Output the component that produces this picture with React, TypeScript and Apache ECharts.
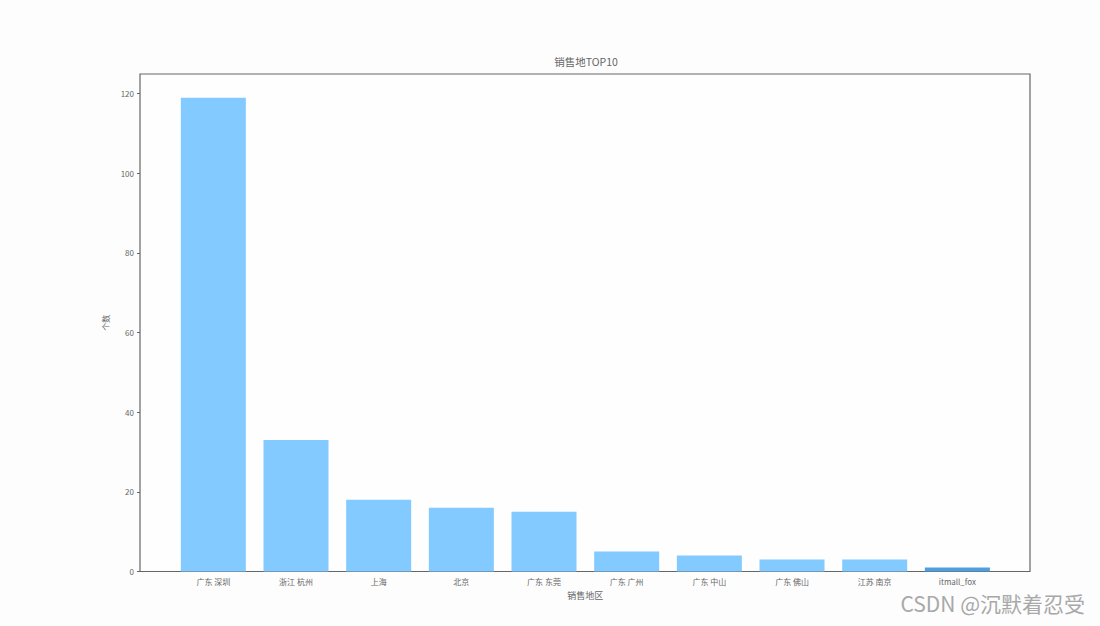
import { useEffect, useRef } from 'react';
import * as echarts from 'echarts';

const categories = ['广东 深圳', '浙江 杭州', '上海', '北京', '广东 东莞', '广东 广州', '广东 中山', '广东 佛山', '江苏 南京', 'itmall_fox'];
const salesValues = [119, 33, 18, 16, 15, 5, 4, 3, 3, 1];
const yTicks = [0, 20, 40, 60, 80, 100, 120];
const yMax = 124.95;

const FONT = '"Noto Sans CJK SC", "DejaVu Sans", sans-serif';
const TEXT = '#666';

export default function App() {
  const chartRef = useRef<HTMLDivElement>(null);

  useEffect(() => {
    if (!chartRef.current) return;

    const chart = echarts.init(chartRef.current, null, { renderer: 'svg' });

    chart.setOption({
      animation: false,
      backgroundColor: '#fdfdfd',
      textStyle: { fontFamily: FONT },
      title: {
        text: '销售地TOP10',
        left: 581,
        top: 51,
        textAlign: 'center',
        textStyle: { color: TEXT, fontSize: 10.5, fontWeight: 'normal', fontFamily: FONT },
      },
      // outer frame, the bars sit in the narrower grid so they keep the side margins
      grid: [
        { left: 140, top: 74, width: 890, height: 497.5, show: true, borderColor: '#666', borderWidth: 1.2, backgroundColor: '#fefefe' },
        { left: 172, top: 74, width: 826.7, height: 497.5 },
      ],
      xAxis: {
        type: 'category',
        gridIndex: 1,
        data: categories,
        name: '销售地区',
        nameLocation: 'middle',
        nameGap: 19,
        nameTextStyle: { color: TEXT, fontSize: 9, fontFamily: FONT },
        axisLine: { show: false },
        axisTick: { alignWithLabel: true, length: 3, lineStyle: { color: '#666' } },
        axisLabel: { color: TEXT, fontSize: 8, margin: 6, interval: 0, fontFamily: FONT },
      },
      yAxis: {
        type: 'value',
        gridIndex: 1,
        min: 0,
        max: yMax,
        offset: 32,
        name: '个数',
        nameLocation: 'middle',
        nameGap: 23,
        nameRotate: 90,
        nameTextStyle: { color: TEXT, fontSize: 8, fontFamily: FONT },
        splitLine: { show: false },
        axisLine: { show: false },
        axisTick: { show: true, length: 3, customValues: yTicks, lineStyle: { color: '#666' } },
        axisLabel: { color: TEXT, fontSize: 8, margin: 6, customValues: yTicks, fontFamily: FONT },
      },
      series: [
        {
          type: 'bar',
          xAxisIndex: 0,
          yAxisIndex: 0,
          // the shortest bar reads darker in the reference
          data: salesValues.map((value, i) =>
            i === salesValues.length - 1 ? { value, itemStyle: { color: '#4f9ee0' } } : value,
          ),
          barWidth: 65,
          itemStyle: { color: '#82caff' },
        },
      ],
      graphic: [
        {
          type: 'text',
          right: 15,
          top: 592,
          style: { text: 'CSDN @沉默着忍受', fill: '#a8a8a8', fontSize: 21, fontFamily: '"Noto Sans CJK SC", sans-serif' },
        },
      ],
    });

    return () => {
      chart.dispose();
    };
  }, []);

  return <div ref={chartRef} style={{ position: 'absolute', left: 0, top: 0, width: 1100, height: 626 }} />;
}
